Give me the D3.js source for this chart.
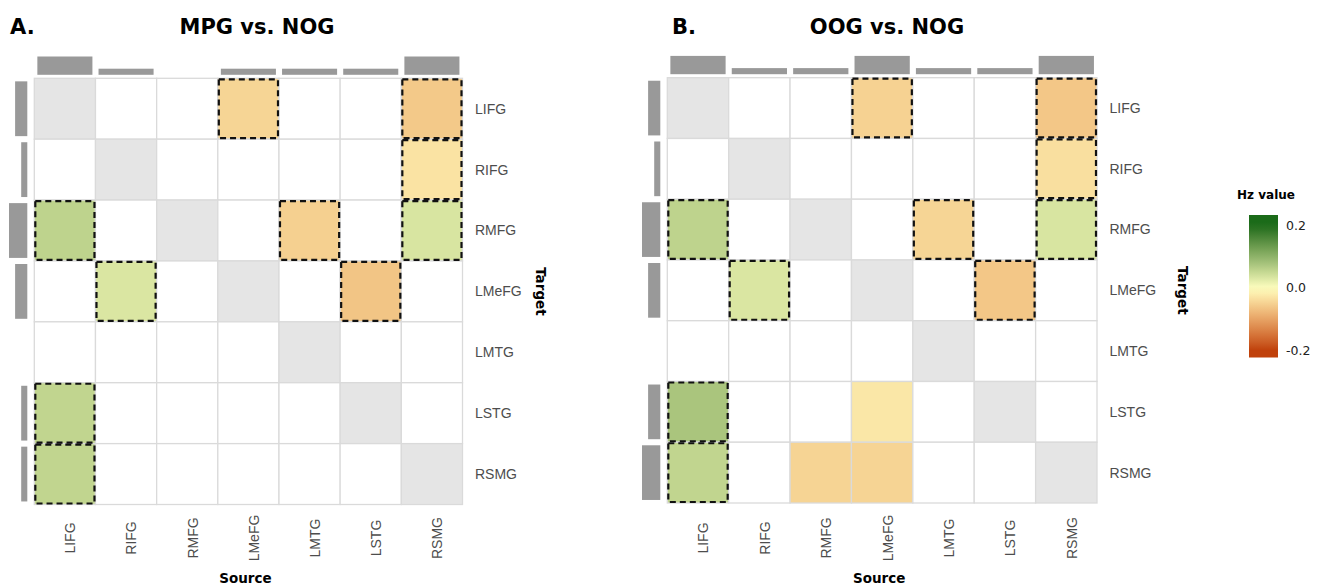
<!DOCTYPE html>
<html>
<head>
<meta charset="utf-8">
<script src="https://cdn.jsdelivr.net/npm/d3@7"></script>
<style>
  body { margin: 0; background: #fff; }
</style>
</head>
<body>
<svg id="chart" width="1324" height="588"></svg>
<script>
// regions (same order for source and target)
var regions = ["LIFG", "RIFG", "RMFG", "LMeFG", "LMTG", "LSTG", "RSMG"];

// A. MPG vs. NOG
var mpgSource = ["LMeFG", "RSMG", "RSMG", "LIFG", "LMTG", "RSMG", "RIFG", "LSTG", "LIFG", "LIFG"];
var mpgTarget = ["LIFG", "LIFG", "RIFG", "RMFG", "RMFG", "RMFG", "LMeFG", "LMeFG", "LSTG", "RSMG"];
var mpgValue  = [-0.045, -0.058, -0.03, 0.058, -0.05, 0.034, 0.033, -0.062, 0.055, 0.055];
var mpgSig    = [1, 1, 1, 1, 1, 1, 1, 1, 1, 1];

// B. OOG vs. NOG
var oogSource = ["LMeFG", "RSMG", "RSMG", "LIFG", "LMTG", "RSMG", "RIFG", "LSTG", "LIFG", "LMeFG", "LIFG", "RMFG", "LMeFG"];
var oogTarget = ["LIFG", "LIFG", "RIFG", "RMFG", "RMFG", "RMFG", "LMeFG", "LMeFG", "LSTG", "LSTG", "RSMG", "RSMG", "RSMG"];
var oogValue  = [-0.048, -0.06, -0.034, 0.058, -0.045, 0.034, 0.033, -0.06, 0.076, -0.026, 0.055, -0.046, -0.046];
var oogSig    = [1, 1, 1, 1, 1, 1, 1, 1, 1, 0, 1, 0, 0];

var legendTicks = [0.2, 0.0, -0.2];

var color = d3.scaleLinear()
    .domain([-0.2, 0, 0.2])
    .range(["#c0410b", "#ffffbf", "#1b6b19"])
    .interpolate(d3.interpolateLab)
    .clamp(true);

var svg = d3.select("#chart");

function drawPanel(p) {
    var x = d3.scaleBand().domain(regions).range([p.left, p.right]);
    var y = d3.scaleBand().domain(regions).range([p.top, p.bottom]);
    var bw = x.bandwidth(), bh = y.bandwidth();
    var countScale = d3.scaleLinear().domain([0, 3]).range([0, 18.3]);

    var links = p.source.map(function(s, i) {
        return {source: s, target: p.target[i], value: p.value[i], sig: p.sig[i]};
    });
    var lookup = new Map(links.map(function(d) { return [d.target + "|" + d.source, d]; }));

    var g = svg.append("g");

    // titles
    g.append("text")
        .attr("x", p.letterX).attr("y", 34)
        .attr("font-family", "DejaVu Sans").attr("font-weight", "bold").attr("font-size", "21px")
        .text(p.letter);
    g.append("text")
        .attr("x", p.titleX).attr("y", 34)
        .attr("text-anchor", "middle")
        .attr("font-family", "DejaVu Sans").attr("font-weight", "bold").attr("font-size", "21px")
        .text(p.title);

    // tiles
    var cells = [];
    regions.forEach(function(t) {
        regions.forEach(function(s) {
            cells.push({target: t, source: s, link: lookup.get(t + "|" + s)});
        });
    });

    g.selectAll(".tile")
        .data(cells)
        .enter().append("rect")
        .attr("class", "tile")
        .attr("x", function(d) { return x(d.source); })
        .attr("y", function(d) { return y(d.target); })
        .attr("width", bw)
        .attr("height", bh)
        .attr("fill", function(d) {
            if (d.source === d.target) return "#e5e5e5";
            return d.link ? color(d.link.value) : "#ffffff";
        })
        .attr("stroke", "#dadada")
        .attr("stroke-width", 1.3);

    // significant connections
    g.selectAll(".sig")
        .data(links.filter(function(d) { return d.sig; }))
        .enter().append("rect")
        .attr("class", "sig")
        .attr("x", function(d) { return x(d.source) + 1; })
        .attr("y", function(d) { return y(d.target) + 1; })
        .attr("width", bw - 2)
        .attr("height", bh - 2)
        .attr("fill", "none")
        .attr("stroke", "#111")
        .attr("stroke-width", 2.2)
        .attr("stroke-dasharray", "6,4");

    // marginal bars: number of connections per source / target
    var bySource = d3.rollup(links, function(v) { return v.length; }, function(d) { return d.source; });
    var byTarget = d3.rollup(links, function(v) { return v.length; }, function(d) { return d.target; });

    g.selectAll(".topbar")
        .data(Array.from(bySource))
        .enter().append("rect")
        .attr("class", "topbar")
        .attr("x", function(d) { return x(d[0]) + bw * 0.05; })
        .attr("width", bw * 0.9)
        .attr("y", function(d) { return p.top - 3.5 - countScale(d[1]); })
        .attr("height", function(d) { return countScale(d[1]); })
        .attr("fill", "#999999");

    g.selectAll(".leftbar")
        .data(Array.from(byTarget))
        .enter().append("rect")
        .attr("class", "leftbar")
        .attr("y", function(d) { return y(d[0]) + bh * 0.05; })
        .attr("height", bh * 0.9)
        .attr("x", function(d) { return p.left - 7 - countScale(d[1]); })
        .attr("width", function(d) { return countScale(d[1]); })
        .attr("fill", "#999999");

    // row labels (target)
    g.selectAll(".rowlab")
        .data(regions)
        .enter().append("text")
        .attr("class", "rowlab")
        .attr("x", p.right + 12.5)
        .attr("y", function(d) { return y(d) + bh / 2; })
        .attr("dy", "0.35em")
        .attr("font-family", "Liberation Sans, Arial, sans-serif")
        .attr("font-size", "14px")
        .attr("fill", "#4d4d4d")
        .text(function(d) { return d; });

    // column labels (source)
    g.selectAll(".collab")
        .data(regions)
        .enter().append("text")
        .attr("class", "collab")
        .attr("transform", function(d) { return "translate(" + (x(d) + bw / 2 + 5.5) + ",538) rotate(-90)"; })
        .attr("dy", "0.35em")
        .attr("text-anchor", "middle")
        .attr("font-family", "Liberation Sans, Arial, sans-serif")
        .attr("font-size", "14px")
        .attr("fill", "#4d4d4d")
        .text(function(d) { return d; });

    g.append("text")
        .attr("x", (p.left + p.right) / 2 - 3)
        .attr("y", 583)
        .attr("text-anchor", "middle")
        .attr("font-family", "DejaVu Sans").attr("font-weight", "bold").attr("font-size", "13.5px")
        .text("Source");

    g.append("text")
        .attr("transform", "translate(" + p.targetX + "," + ((p.top + p.bottom) / 2) + ") rotate(90)")
        .attr("dy", "0.35em")
        .attr("text-anchor", "middle")
        .attr("font-family", "DejaVu Sans").attr("font-weight", "bold").attr("font-size", "13.5px")
        .text("Target");
}

drawPanel({
    left: 34.3, right: 462.5, top: 78.3, bottom: 504.5,
    letter: "A.", letterX: 10, title: "MPG vs. NOG", titleX: 257, targetX: 541,
    source: mpgSource, target: mpgTarget, value: mpgValue, sig: mpgSig
});

drawPanel({
    left: 667.3, right: 1097, top: 77.7, bottom: 503,
    letter: "B.", letterX: 672, title: "OOG vs. NOG", titleX: 887, targetX: 1183,
    source: oogSource, target: oogTarget, value: oogValue, sig: oogSig
});

// legend
var legendY = d3.scaleLinear().domain([-0.2, 0.2]).range([350.5, 225.7]);
var barTop = 215, barBottom = 357.5;

var defs = svg.append("defs");
var grad = defs.append("linearGradient")
    .attr("id", "hzgrad")
    .attr("x1", 0).attr("y1", 0).attr("x2", 0).attr("y2", 1);
d3.range(0, 1.0001, 0.05).forEach(function(t) {
    var v = legendY.invert(barTop + t * (barBottom - barTop));
    grad.append("stop").attr("offset", t).attr("stop-color", color(v));
});

var lg = svg.append("g");
lg.append("text")
    .attr("x", 1237).attr("y", 199)
    .attr("font-family", "DejaVu Sans").attr("font-weight", "bold").attr("font-size", "12px")
    .text("Hz value");
lg.append("rect")
    .attr("x", 1249).attr("y", barTop)
    .attr("width", 29).attr("height", barBottom - barTop)
    .attr("fill", "url(#hzgrad)");
lg.selectAll(".ltick")
    .data(legendTicks)
    .enter().append("text")
    .attr("class", "ltick")
    .attr("x", 1286)
    .attr("y", function(d) { return legendY(d); })
    .attr("dy", "0.35em")
    .attr("font-family", "DejaVu Sans").attr("font-size", "12.5px")
    .attr("fill", "#222")
    .text(function(d) { return d.toFixed(1); });
</script>
</body>
</html>
